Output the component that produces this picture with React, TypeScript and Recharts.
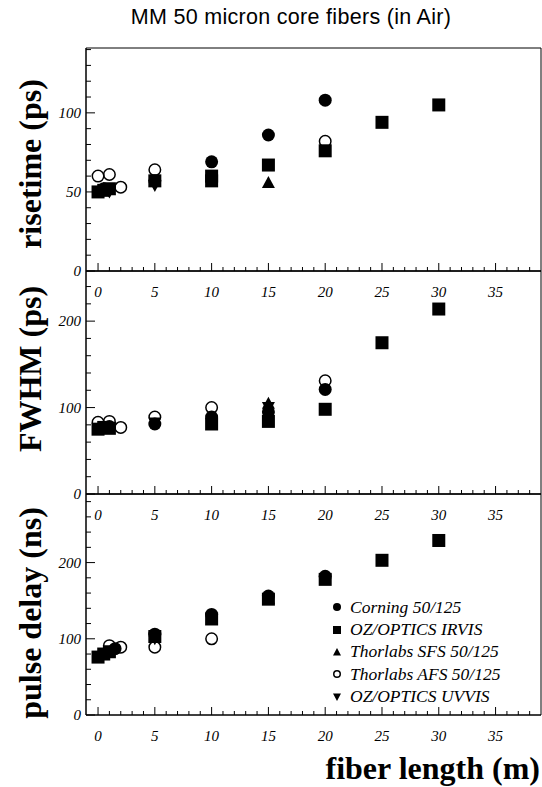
import React from "react";
import { ScatterChart, Scatter, XAxis, YAxis, Legend, ReferenceArea } from "recharts";

// fiber length ticks (m), labels every 5
const lengthTicks = [
  0, 1, 2, 3, 4, 5, 6, 7, 8, 9, 10, 11, 12, 13, 14, 15, 16, 17, 18, 19, 20,
  21, 22, 23, 24, 25, 26, 27, 28, 29, 30, 31, 32, 33, 34, 35, 36, 37, 38,
];
const lengthDomain = [-1.06, 39];
const riseTicks = [0, 10, 20, 30, 40, 50, 60, 70, 80, 90, 100, 110, 120, 130, 140];
const fwhmTicks = [0, 20, 40, 60, 80, 100, 120, 140, 160, 180, 200, 220, 240];
const delayTicks = [0, 20, 40, 60, 80, 100, 120, 140, 160, 180, 200, 220, 240, 260, 280];

// risetime (ps)
const riseCorning = [[0.5, 52], [5, 57], [10, 69], [15, 86], [20, 108]];
const riseIrvis = [[0, 50], [0.5, 51], [1, 52], [5, 57], [10, 57], [10, 60], [15, 67], [20, 76], [25, 94], [30, 105]];
const riseSfs = [[15, 56]];
const riseAfs = [[0, 60], [1, 61], [2, 53], [5, 64], [20, 82]];
const riseUvvis = [[5, 54], [1, 50]];

// FWHM (ps)
const fwhmCorning = [[1, 78], [5, 81], [10, 89], [15, 95], [20, 121]];
const fwhmIrvis = [[0, 75], [0.5, 77], [1, 76], [10, 81], [15, 84], [20, 98], [25, 175], [30, 214]];
const fwhmSfs = [[15, 105]];
const fwhmAfs = [[0, 83], [1, 84], [2, 77], [5, 89], [10, 100], [20, 131]];
const fwhmUvvis = [[5, 82], [15, 100]];

// pulse delay (ns)
const delayCorning = [[1.5, 87], [5, 106], [10, 132], [15, 156], [20, 182]];
const delayIrvis = [[0, 76], [0.5, 80], [1, 83], [5, 103], [10, 126], [15, 152], [20, 178], [25, 203], [30, 229]];
const delaySfs = [[15, 153]];
const delayAfs = [[1, 91], [2, 89], [5, 89], [10, 100]];
const delayUvvis = [[5, 100]];

const seriesNames = [
  "Corning 50/125",
  "OZ/OPTICS IRVIS",
  "Thorlabs SFS 50/125",
  "Thorlabs AFS 50/125",
  "OZ/OPTICS UVVIS",
];
const seriesShapes = ["circle", "square", "triangle", "open", "down"];

const serif = "'Liberation Serif', 'DejaVu Serif', serif";

const Marker = ({ cx, cy, kind, size = 13 }: any) => {
  const r = size / 2;
  switch (kind) {
    case "circle":
      return <circle cx={cx} cy={cy} r={r} fill="#000" />;
    case "square":
      return <rect x={cx - r} y={cy - r} width={size} height={size} fill="#000" />;
    case "triangle":
      return <path d={`M${cx},${cy - r}L${cx + r},${cy + r * 0.85}L${cx - r},${cy + r * 0.85}Z`} fill="#000" />;
    case "down":
      return <path d={`M${cx},${cy + r}L${cx + r},${cy - r * 0.85}L${cx - r},${cy - r * 0.85}Z`} fill="#000" />;
    default:
      return <circle cx={cx} cy={cy} r={r - 0.75} fill="none" stroke="#000" strokeWidth={1.5} />;
  }
};

const XTick = ({ x, y, payload }: any) => {
  const v = payload.value;
  const major = v % 5 === 0;
  return (
    <g>
      <line x1={x} x2={x} y1={y} y2={y - (major ? 8 : 4)} stroke="#000" />
      {major && (
        <text x={x} y={y + 26} textAnchor="middle" fontFamily={serif} fontStyle="italic" fontSize={15} fill="#000">
          {v}
        </text>
      )}
    </g>
  );
};

const makeYTick = (step: number) => ({ x, y, payload }: any) => {
  const v = payload.value;
  const major = v % step === 0;
  return (
    <g>
      <line x1={x} x2={x + (major ? 9 : 5)} y1={y} y2={y} stroke="#000" />
      {major && (
        <text x={x - 5} y={y + 5} textAnchor="end" fontFamily={serif} fontStyle="italic" fontSize={15} fill="#000">
          {v}
        </text>
      )}
    </g>
  );
};

const toPoints = (rows: number[][]) => rows.map(([x, y]) => ({ x, y }));

const LegendBox = () => (
  <div style={{ fontFamily: serif, fontStyle: "italic", fontSize: 17.5, color: "#000" }}>
    {seriesNames.map((name, i) => (
      <div key={name} style={{ display: "flex", alignItems: "center", height: 22.4 }}>
        <svg width={14} height={14} style={{ marginRight: 6 }}>
          <Marker cx={7} cy={7} kind={seriesShapes[i]} size={8} />
        </svg>
        <span style={{ whiteSpace: "nowrap" }}>{name}</span>
      </div>
    ))}
  </div>
);

interface PanelProps {
  top: number;
  bottom: number;
  yMax: number;
  yTicks: number[];
  yStep: number;
  data: number[][][];
  legend?: boolean;
}

const Panel = ({ top, bottom, yMax, yTicks, yStep, data, legend }: PanelProps) => (
  <div style={{ position: "absolute", left: 0, top: 0 }}>
    <ScatterChart
      width={542}
      height={bottom + 30}
      margin={{ top, right: 1, bottom: 0, left: 0 }}
      style={{ overflow: "visible" }}
    >
      <XAxis
        dataKey="x"
        type="number"
        domain={lengthDomain}
        ticks={lengthTicks}
        tick={<XTick />}
        tickSize={0}
        tickMargin={0}
        tickLine={false}
        height={30}
        stroke="#000"
        allowDataOverflow
        interval={0}
      />
      <YAxis
        dataKey="y"
        type="number"
        domain={[0, yMax]}
        ticks={yTicks}
        tick={makeYTick(yStep)}
        tickSize={0}
        tickMargin={0}
        tickLine={false}
        width={86}
        stroke="#000"
        allowDataOverflow
        interval={0}
      />
      {/* plot frame */}
      <ReferenceArea
        x1={lengthDomain[0]}
        x2={lengthDomain[1]}
        y1={0}
        y2={yMax}
        fill="none"
        stroke="#000"
        strokeWidth={1}
        fillOpacity={0}
        strokeOpacity={1}
      />
      {data.map((rows, i) => (
        <Scatter
          key={seriesNames[i]}
          name={seriesNames[i]}
          data={toPoints(rows)}
          isAnimationActive={false}
          shape={(p: any) => <Marker cx={p.cx} cy={p.cy} kind={seriesShapes[i]} />}
        />
      ))}
      {legend && (
        <Legend
          layout="vertical"
          align="center"
          verticalAlign="middle"
          content={() => <LegendBox />}
          wrapperStyle={{ left: 330, top: 596, width: 210, height: 112 }}
        />
      )}
    </ScatterChart>
  </div>
);

export default function App() {
  return (
    <div style={{ position: "absolute", left: 0, top: 0, width: 542, height: 787, background: "#fff" }}>
      <Panel top={48} bottom={271} yMax={141} yTicks={riseTicks} yStep={50}
        data={[riseCorning, riseIrvis, riseSfs, riseAfs, riseUvvis]} />
      <Panel top={271} bottom={494} yMax={258} yTicks={fwhmTicks} yStep={100}
        data={[fwhmCorning, fwhmIrvis, fwhmSfs, fwhmAfs, fwhmUvvis]} />
      <Panel top={494} bottom={715} yMax={290} yTicks={delayTicks} yStep={100}
        data={[delayCorning, delayIrvis, delaySfs, delayAfs, delayUvvis]} legend />
      <svg width={542} height={787} style={{ position: "absolute", left: 0, top: 0, pointerEvents: "none" }}>
        <text x={291} y={24} textAnchor="middle" fontFamily="'Liberation Sans', Arial, sans-serif" fontSize={21.5} letterSpacing={0.3} fill="#000">
          MM 50 micron core fibers (in Air)
        </text>
        <g fontFamily={serif} fontWeight="bold" fontSize={32} fill="#000" textAnchor="middle">
          <text transform="translate(41,164) rotate(-90)">risetime (ps)</text>
          <text transform="translate(41,369) rotate(-90)">FWHM (ps)</text>
          <text transform="translate(41,613) rotate(-90)">pulse delay (ns)</text>
          <text x={540} y={779} textAnchor="end">fiber length (m)</text>
        </g>
      </svg>
    </div>
  );
}
